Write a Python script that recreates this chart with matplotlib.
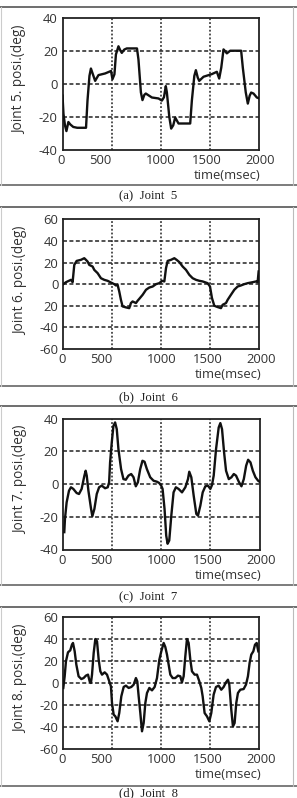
import matplotlib
matplotlib.use("Agg")
import matplotlib.pyplot as plt
from matplotlib.lines import Line2D
import numpy as np

# ---------------- data ----------------
t5 = [0, 10, 25, 40, 60, 80, 110, 150, 240, 255, 275, 290, 310, 333, 367, 435, 495, 510, 530, 545,
      571, 590, 605, 630, 656, 760, 775, 800, 816, 835, 850, 912, 980, 1014, 1035, 1054, 1065, 1090,
      1109, 1130, 1150, 1184, 1303, 1320, 1345, 1361, 1380, 1395, 1439, 1524, 1575, 1599, 1620, 1643,
      1660, 1677, 1711, 1823, 1840, 1870, 1891, 1910, 1925, 1949, 1983, 2000]
j5 = [-7, -18, -25, -28.5, -23, -24.5, -26, -26.5, -26.5, -10, 5, 9.5, 6, 2, 5.5, 6.5, 8, 3, 6, 18,
      23, 20.5, 19, 21, 21.7, 21.7, 15, -5, -9.7, -6.5, -5.7, -8.1, -8.7, -10, -8, -1.2, -5, -20,
      -27, -25, -20.3, -23.9, -23.9, -10, 5, 8.5, 4, 2, 4.5, 6.1, 7.5, 3.4, 10, 21.1,
      20, 18.7, 20.3, 20.3, 10, -5, -11.8, -7, -5.1, -5.7, -8.1, -8.5]

t6 = [0, 27, 78, 95, 112, 136, 180, 214, 231, 248, 265, 299, 316, 350, 384, 418, 452, 486, 520, 537,
      554, 571, 588, 605, 639, 673, 690, 707, 741, 758, 776, 810, 844, 878, 912, 946, 980, 1007, 1031,
      1048, 1065, 1099, 1133, 1156, 1184, 1218, 1252, 1286, 1320, 1354, 1388, 1422, 1473, 1497, 1517,
      1541, 1575, 1609, 1626, 1660, 1677, 1711, 1745, 1779, 1813, 1847, 1881, 1932, 1966, 1983, 1993]
j6 = [0, 1.8, 4, 1.8, 17.8, 21.5, 22.5, 24, 22.5, 20.9, 17.8, 16.3, 13.2, 10.2, 5.5, 4, 3.1, 1.5, 0, -1.2,
      -0.6, -6.8, -14.5, -20.6, -21.5, -22.2, -17.5, -16, -17.5, -15.4, -13.5, -9.8, -5.2, -3.1, -2.2, 0, 0.9, 3.1, 2.5,
      14.8, 21.5, 22.5, 24, 22.5, 20.4, 16.3, 13.2, 8.6, 5.5, 4, 3.1, 2.5, 0.9, -2.2, -12.9,
      -20, -21.2, -22.2, -19.1, -17.5, -14.5, -9.8, -5.2, -2.2, -1.2, 0, 0.9, 1.8, 2.5, 1.8, 11.7]

t7 = [10, 17, 34, 58, 78, 102, 136, 160, 187, 215, 228, 239, 256, 283, 296, 317, 341, 365, 392, 426,
      453, 467, 477, 494, 511, 528, 545, 562, 589, 613, 637, 664, 692, 716, 739, 760, 784, 807, 828,
      852, 886, 920, 954, 978, 998, 1012, 1032, 1049, 1063, 1080, 1101, 1124, 1148, 1175, 1210, 1244,
      1271, 1284, 1305, 1329, 1356, 1373, 1397, 1421, 1448, 1475, 1499, 1516, 1533, 1557, 1584, 1601,
      1618, 1639, 1659, 1687, 1714, 1738, 1761, 1789, 1816, 1840, 1864, 1884, 1908, 1932, 1959, 1986, 2000]
j7 = [-29.4, -21.3, -11.2, -4.1, -2, -3, -5.5, -6.1, -3, 5.1, 8.1, 5.1, -4.1, -15.2, -19.7, -15.2, -6.1, -2, -1, -2.6,
      -2, 1, 13.2, 25.4, 35.5, 37.6, 33.5, 21.3, 9.1, 3, 2.6, 5.1, 6.1, 4.1, -1.4, 1, 9.1, 14.2, 13.6,
      9.1, 4.1, 2, 1.4, 0.6, -1, -3, -15.2, -31.5, -36.5, -34.5, -19.3, -5.1, -2, -3, -5.1, -2,
      3, 7.5, 4.1, -7.1, -18.3, -19.3, -13.2, -5.1, -1.4, -1, -3, -0.6, 5.1, 21.3, 34.5, 37.2,
      33.5, 19.3, 8.1, 3, 4.1, 6.1, 5.1, 1.4, -1.4, 3, 11.2, 14.8, 13.2, 8.1, 4.1, 2, 1.4]

t8 = [0, 14, 27, 48, 71, 88, 99, 116, 133, 156, 184, 207, 231, 252, 269, 282, 293, 310, 327, 344,
      361, 378, 395, 422, 446, 469, 486, 497, 514, 531, 554, 571, 592, 616, 639, 667, 694, 718, 741,
      755, 769, 786, 803, 820, 837, 854, 878, 905, 932, 956, 980, 1000, 1024, 1041, 1058, 1075, 1092,
      1116, 1143, 1170, 1194, 1211, 1228, 1245, 1262, 1279, 1296, 1313, 1340, 1364, 1388, 1408, 1422,
      1442, 1466, 1490, 1510, 1534, 1558, 1585, 1612, 1636, 1660, 1680, 1694, 1714, 1731, 1748, 1765,
      1782, 1806, 1840, 1864, 1884, 1901, 1918, 1939, 1956, 1973, 1983, 1990]
j8 = [-4.5, 6.1, 19.7, 27.9, 29.7, 34.8, 36.4, 28.8, 16.7, 6.1, 3.6, 4.5, 6.7, 7.6, 1.5, 0, 7.6, 27.3, 40, 37.9,
      21.2, 10.6, 7.6, 9.7, 7.6, 1.5, -3, -18.2, -28.8, -30.3, -34.8, -27.3, -12.1, -3.6, -2.4, -4.5, -3.6, -1.5, 4.5,
      1.5, -12.1, -27.3, -43.9, -36.4, -18.2, -9.1, -4.5, -6.7, -3.6, 4.5, 21.2, 28.8, 36.4, 32.7, 25.8, 16.7, 7.6,
      4.5, 4.5, 6.7, 6.1, 0.6, 6.1, 24.2, 40, 36.4, 21.2, 10.6, 7.6, 7.6, 1.5, -4.5, -12.1,
      -27.3, -30.3, -34.8, -27.3, -10.6, -3.6, -2.4, -6.1, -3.6, 0.6, 3, -1.5, -24.2, -39.4, -36.4, -18.2,
      -9.1, -6.1, -5.5, -1.5, 6.1, 18.2, 25.8, 28.8, 34.8, 36.4, 31.8, 28.8]

series_t = [t5, t6, t7, t8]
series_y = [j5, j6, j7, j8]
ylabels = ["Joint 5. posi.(deg)", "Joint 6. posi.(deg)", "Joint 7. posi.(deg)", "Joint 8. posi.(deg)"]
captions = ["(a)  Joint  5", "(b)  Joint  6", "(c)  Joint  7", "(d)  Joint  8"]
ylims = [(-40, 40), (-60, 60), (-40, 40), (-60, 60)]
yticks_list = [[-40, -20, 0, 20, 40], [-60, -40, -20, 0, 20, 40, 60],
               [-40, -20, 0, 20, 40], [-60, -40, -20, 0, 20, 40, 60]]
ytick_labels_list = [["-40", "-20", "0", "20", "40"], ["-60", "-40", "20", "0", "20", "40", "60"],
                     ["-40", "-20", "0", "20", "40"], ["-60", "-40", "-20", "0", "20", "40", "60"]]
xgrid = [500, 1000, 1500]
xtick_labels = ["0", "500", "1000", "1500", "2000"]
xtick_label_pos = [-15, 390, 1000, 1470, 2015]
xlabel = "time(msec)"

# ---------------- layout (pixels) ----------------
W, H = 297, 798
fig = plt.figure(figsize=(W / 100, H / 100), dpi=100)
fig.patch.set_facecolor("white")

axes_px = [(62.5, 258.5, 18.3, 150.0),
           (63.3, 259.3, 219.3, 349.0),
           (63.3, 259.5, 418.5, 549.5),
           (63.3, 259.3, 617.0, 749.0)]
box_px = [(7, 185), (207, 386), (406, 585), (607, 786)]
caption_y = [196, 397, 597.5, 793]

def fx(x):
    return x / W

def fy(y):
    return 1 - y / H

tick_font = "Open Sans"
txtcol = "#333333"
tfs = 9.4

for i in range(4):
    # panel box
    top, bot = box_px[i]
    fig.add_artist(Line2D([0, 1], [fy(top), fy(top)], transform=fig.transFigure,
                          color="#555555", lw=1.2))
    fig.add_artist(Line2D([0, 1], [fy(bot), fy(bot)], transform=fig.transFigure,
                          color="#666666", lw=1.2))
    fig.add_artist(Line2D([fx(0.8), fx(0.8)], [fy(top), fy(bot)], transform=fig.transFigure,
                          color="#cccccc", lw=0.8))
    fig.add_artist(Line2D([fx(293), fx(293)], [fy(top), fy(bot)], transform=fig.transFigure,
                          color="#bbbbbb", lw=0.8))

    l, r, t, b = axes_px[i]
    ax = fig.add_axes([fx(l), fy(b), fx(r) - fx(l), fy(t) - fy(b)])
    ax.set_xlim(0, 2000)
    ax.set_ylim(*ylims[i])
    for s in ax.spines.values():
        s.set_linewidth(1.3)
        s.set_color("#222222")

    # grid
    for g in xgrid:
        ax.axvline(g, color="#222222", lw=1.1, ls=(0, (1.2, 1.3)), zorder=1)
    for g in yticks_list[i][1:-1]:
        ax.axhline(g, color="#222222", lw=1.1, ls=(0, (2.6, 1.6)), zorder=1)

    ax.plot(series_t[i], series_y[i], color="#111111", lw=1.7, zorder=3)

    ax.set_yticks(yticks_list[i])
    ax.set_yticklabels(ytick_labels_list[i], fontsize=tfs, family=tick_font, color=txtcol)
    ax.tick_params(axis="y", length=0, pad=3.5)
    ax.set_xticks([])
    for lab, pos in zip(xtick_labels, xtick_label_pos):
        ax.annotate(lab, xy=(pos, 0), xycoords=("data", "axes fraction"),
                    xytext=(0, -3), textcoords="offset points", ha="center", va="top",
                    fontsize=tfs, family=tick_font, color=txtcol, annotation_clip=False)
    ax.annotate(xlabel, xy=(1.01, 0), xycoords="axes fraction",
                xytext=(0, -14.0), textcoords="offset points", ha="right", va="top",
                fontsize=tfs, family=tick_font, color=txtcol, annotation_clip=False)

    ax.set_ylabel(ylabels[i], fontsize=9.8, family=tick_font, color=txtcol)
    ax.yaxis.set_label_coords(-0.18, 0.53)

    fig.text(0.5, fy(caption_y[i]), captions[i], ha="center", va="center",
             fontsize=9.2, family="Liberation Serif", color="#222222")

fig.savefig("out.png", dpi=100, facecolor="white")
